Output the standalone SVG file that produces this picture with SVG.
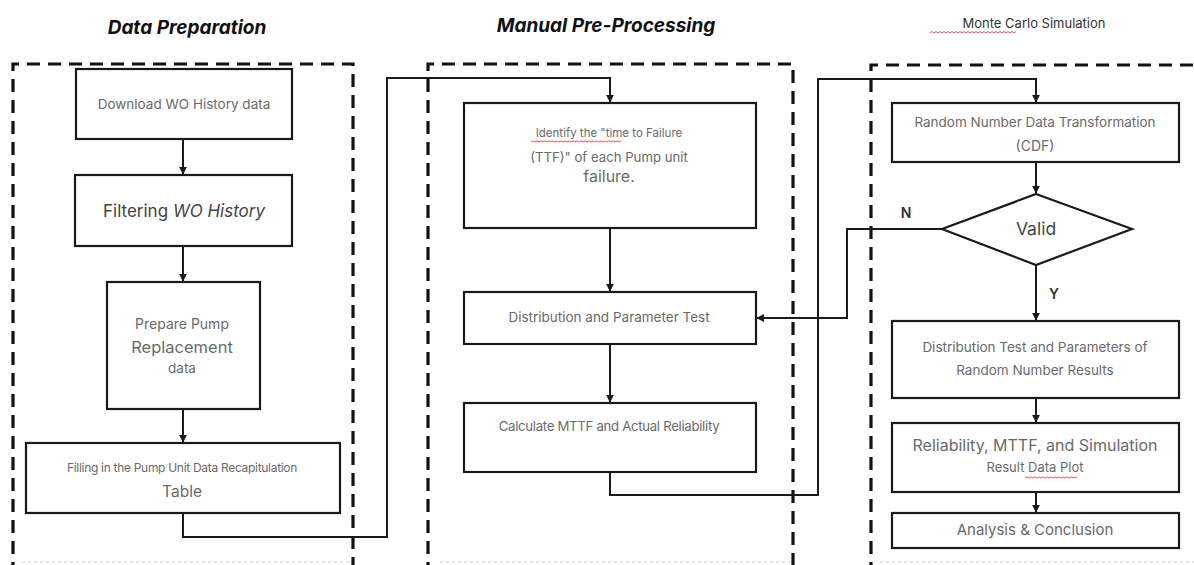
<svg xmlns="http://www.w3.org/2000/svg" width="1194" height="565" viewBox="0 0 1194 565">
<style>
.frame{fill:none;stroke:#111;stroke-width:3.2;stroke-dasharray:13 8}
.faint{fill:none;stroke:#ddd;stroke-width:1.5;stroke-dasharray:3 3}
.box{fill:#fff;stroke:#1a1a1a;stroke-width:2.2}
.con{fill:none;stroke:#1a1a1a;stroke-width:2}
.t{font-family:Inter,"Noto Sans",sans-serif;fill:#6a6a6a;text-anchor:middle}
.title{font-family:Inter,"Liberation Sans",sans-serif;font-weight:700;font-style:italic;fill:#111;text-anchor:middle}
.sq{fill:none;stroke:#e04050;stroke-width:0.9}
</style>
<defs>
<marker id="ah" viewBox="0 0 10 10" refX="9" refY="5" markerWidth="8" markerHeight="8" markerUnits="userSpaceOnUse" orient="auto">
<path d="M0,0 L10,5 L0,10 z" fill="#1a1a1a"/>
</marker>
</defs>
<rect width="1194" height="565" fill="#fff"/>

<g id="frames">
<path class="frame" d="M13,575 V64 H353 V575"/>
<path class="frame" d="M428,575 V64 H793 V575"/>
<path class="frame" d="M871,575 V65 H1200"/>
<path class="faint" d="M22,562 H350 M440,562 H790 M880,562 H1194"/>
</g>

<g id="titles">
<text class="title" x="187" y="34" font-size="19">Data Preparation</text>
<text class="title" x="606" y="32" font-size="19">Manual Pre-Processing</text>
<text class="t" x="1034" y="28" font-size="13" style="fill:#333">Monte Carlo Simulation</text>
<path class="sq" d="M930,33 l2,-1.5 2,1.5 2,-1.5 2,1.5 2,-1.5 2,1.5 2,-1.5 2,1.5 2,-1.5 2,1.5 2,-1.5 2,1.5 2,-1.5 2,1.5 2,-1.5 2,1.5 2,-1.5 2,1.5 2,-1.5 2,1.5 2,-1.5 2,1.5 2,-1.5 2,1.5 2,-1.5 2,1.5 2,-1.5 2,1.5 2,-1.5 2,1.5 2,-1.5 2,1.5 2,-1.5 2,1.5 2,-1.5 2,1.5 2,-1.5 2,1.5 2,-1.5 2,1.5 2,-1.5 2,1.5 2,-1.5"/>
</g>

<g id="connectors">
<path class="con" d="M183,139 V174" marker-end="url(#ah)"/>
<path class="con" d="M183,246 V281" marker-end="url(#ah)"/>
<path class="con" d="M183,409 V442" marker-end="url(#ah)"/>
<path class="con" d="M183,513 V537 H387 V78 H610 V102" marker-end="url(#ah)"/>
<path class="con" d="M610,228 V291" marker-end="url(#ah)"/>
<path class="con" d="M610,344 V402" marker-end="url(#ah)"/>
<path class="con" d="M610,472 V495 H818 V79 H1036 V102" marker-end="url(#ah)"/>
<path class="con" d="M1036,162 V193" marker-end="url(#ah)"/>
<path class="con" d="M942,229 H847 V318 H757" marker-end="url(#ah)"/>
<path class="con" d="M1036,265 V320" marker-end="url(#ah)"/>
<path class="con" d="M1036,398 V422" marker-end="url(#ah)"/>
<path class="con" d="M1036,492 V512" marker-end="url(#ah)"/>
</g>

<g id="n-download">
<rect class="box" x="76" y="69" width="216" height="70"/>
<text class="t" x="184" y="109" font-size="13.5">Download WO History data</text>
</g>
<g id="n-filtering">
<rect class="box" x="75" y="175" width="217" height="71"/>
<text class="t" x="184" y="217" font-size="17" style="fill:#444">Filtering <tspan font-style="italic">WO History</tspan></text>
</g>
<g id="n-prepare">
<rect class="box" x="107" y="282" width="153" height="127"/>
<text class="t" x="182" y="329" font-size="14">Prepare Pump</text>
<text class="t" x="182" y="353" font-size="16.5">Replacement</text>
<text class="t" x="182" y="373" font-size="13.5">data</text>
</g>
<g id="n-filling">
<rect class="box" x="26" y="443" width="314" height="70"/>
<text class="t" x="182" y="472" font-size="12" letter-spacing="-0.3">Filling in the Pump Unit Data Recapitulation</text>
<text class="t" x="182" y="497" font-size="15.5">Table</text>
</g>

<g id="n-identify">
<rect class="box" x="464" y="103" width="292" height="125"/>
<text class="t" x="609" y="137" font-size="11.5">Identify the "time to Failure</text>
<path class="sq" d="M531,142 l2,-1.2 2,1.2 2,-1.2 2,1.2 2,-1.2 2,1.2 2,-1.2 2,1.2 2,-1.2 2,1.2 2,-1.2 2,1.2 2,-1.2 2,1.2 2,-1.2 2,1.2 2,-1.2 2,1.2 2,-1.2 2,1.2 2,-1.2 2,1.2 2,-1.2 2,1.2 2,-1.2 2,1.2 2,-1.2 2,1.2 2,-1.2 2,1.2 2,-1.2 2,1.2 2,-1.2 2,1.2 2,-1.2 2,1.2 2,-1.2 2,1.2 2,-1.2 2,1.2 2,-1.2 2,1.2 2,-1.2 2,1.2 2,-1.2"/>
<text class="t" x="609" y="162" font-size="13.2">(TTF)" of each Pump unit</text>
<text class="t" x="609" y="182" font-size="16">failure.</text>
</g>
<g id="n-distparam">
<rect class="box" x="464" y="292" width="292" height="52"/>
<text class="t" x="609" y="322" font-size="13.5">Distribution and Parameter Test</text>
</g>
<g id="n-mttf">
<rect class="box" x="464" y="403" width="292" height="69"/>
<text class="t" x="609" y="431" font-size="13.2" letter-spacing="-0.3">Calculate MTTF and Actual Reliability</text>
</g>

<g id="n-random">
<rect class="box" x="892" y="103" width="287" height="59"/>
<text class="t" x="1035" y="127" font-size="13.5">Random Number Data Transformation</text>
<text class="t" x="1035" y="151" font-size="14">(CDF)</text>
</g>
<g id="n-valid">
<polygon class="box" points="1036,194 1132,229 1036,265 942,229"/>
<text class="t" x="1036" y="235" font-size="17.5" style="fill:#444">Valid</text>
<text class="t" x="906" y="218" font-size="14" style="fill:#333;font-weight:600">N</text>
<text class="t" x="1054" y="299" font-size="14" style="fill:#333;font-weight:600">Y</text>
</g>
<g id="n-disttest">
<rect class="box" x="892" y="321" width="287" height="77"/>
<text class="t" x="1035" y="352" font-size="13.5">Distribution Test and Parameters of</text>
<text class="t" x="1035" y="375" font-size="13.5">Random Number Results</text>
</g>
<g id="n-reliability">
<rect class="box" x="892" y="423" width="287" height="69"/>
<text class="t" x="1035" y="451" font-size="16">Reliability, MTTF, and Simulation</text>
<text class="t" x="1035" y="472" font-size="13">Result Data Plot</text>
<path class="sq" d="M1025,478 l2,-1.2 2,1.2 2,-1.2 2,1.2 2,-1.2 2,1.2 2,-1.2 2,1.2 2,-1.2 2,1.2 2,-1.2 2,1.2 2,-1.2 2,1.2 2,-1.2 2,1.2 2,-1.2 2,1.2 2,-1.2 2,1.2 2,-1.2 2,1.2 2,-1.2 2,1.2 2,-1.2 2,1.2"/>
</g>
<g id="n-analysis">
<rect class="box" x="892" y="513" width="287" height="35"/>
<text class="t" x="1035" y="535" font-size="15">Analysis &amp; Conclusion</text>
</g>
</svg>
